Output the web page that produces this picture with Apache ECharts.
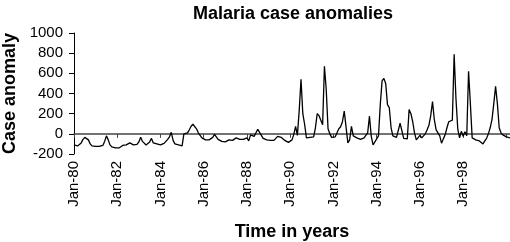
<!DOCTYPE html>
<html>
<head>
<meta charset="utf-8">
<script src="https://cdn.jsdelivr.net/npm/echarts@6/dist/echarts.min.js"></script>
<style>
  html, body { margin: 0; padding: 0; background: #fff; }
  #chart { width: 510px; height: 242px; }
</style>
</head>
<body>
<div id="chart"></div>
<script>
// monthly case anomalies, Jan-80 onward
const y1980s = [
  -110, -115, -120, -110, -90, -55, -35, -30, -60, -100, -120, -125,
  -125, -120, -125, -120, -115, -75, -20, -60, -110, -130, -135, -140,
  -140, -140, -125, -115, -105, -110, -100, -90, -95, -110, -100, -105,
  -80, -33, -75, -65, -110, -100, -80, -45, -90, -95, -100, -105,
  -110, -100, -95, -80, -55, -30, 15, -65, -100, -105, -110, -115,
  -120, 0, -5, 10, 40, 75, 95, 90, 50, 10, -15, -40,
  -50, -60, -55, -60, -55, -35, -5, -30, -55, -60, -75, -90,
  -80, -70, -60, -55, -65, -55, -40, -30, -55, -50, -55, -45,
  -40, -70, -10, -20, -25, 10, 45, 15, -15, -45, -55, -60,
  -60, -65, -70, -65, -50, -25, -25, -35, -50, -65, -75, -85
]
const y1990s = [
  -90, -60, -5, 75, -15, 230, 540, 200, 95, -40, -40, -35,
  -35, -30, 60, 200, 180, 190, 90, 670, 440, 50, 0, -35,
  -25, -30, -40, 50, 70, 120, 225, 210, -90, -60, 75, -20,
  -35, -40, -50, -55, -45, -40, -30, 10, 175, -25, -110, -80,
  -70, -20, 290, 525, 550, 500, 290, 260, 60, -20, -30, -35,
  -40, 105, 100, -45, -50, -50, 240, 200, 120, 10, -60, -50,
  -15, -40, -20, 0, 40, 85, 180, 320, 140, 40, 10, -20,
  -93, -50, -10, 60, 120, 130, 135, 790, 350, 50, -40, 25,
  -25, 20, -20, 620, 300, -40, -55, -60, -65, -70, -80, -100,
  -70, -45, 0, 60, 140, 300, 470, 300, 60, 10, -10, -25
]
const y2000s = [-30, -15, -40]

const anomalies = [].concat(y1980s, y1990s, y2000s)
const yTicks = { min: -200, max: 1000, step: 200 }
const labelEvery = 24   // one label every two years
const lastLabel = 216   // Jan-98

// category labels: Jan-80, Feb-80, ...
const monthNames = ['Jan', 'Feb', 'Mar', 'Apr', 'May', 'Jun', 'Jul', 'Aug', 'Sep', 'Oct', 'Nov', 'Dec']
const months = anomalies.map((v, i) => {
  const yr = (80 + Math.floor(i / 12)) % 100
  return monthNames[i % 12] + '-' + String(yr).padStart(2, '0')
})

const chart = echarts.init(document.getElementById('chart'))
const font = 'Liberation Sans, Arial, sans-serif'

chart.setOption({
  animation: false,
  textStyle: { fontFamily: font },
  title: {
    text: 'Malaria case anomalies',
    left: 188,
    top: 0,
    textStyle: { fontFamily: font, fontSize: 18, fontWeight: 'bold', color: '#000' }
  },
  grid: { left: 74, right: 0, top: 33, bottom: 88, outerBoundsMode: 'none', containLabel: false },
  xAxis: [{
    type: 'category',
    data: months,
    boundaryGap: false,
    name: 'Time in years',
    nameLocation: 'middle',
    nameGap: 69,
    nameTextStyle: { fontFamily: font, fontSize: 18, fontWeight: 'bold', color: '#000' },
    axisLine: { show: false, onZero: false },
    axisTick: { show: false },
    axisLabel: {
      interval: (i) => i % labelEvery === 0 && i <= lastLabel,
      rotate: 90,
      margin: 7,
      color: '#000',
      fontSize: 15,
      fontFamily: font
    },
    splitLine: { show: false }
  }, {
    // zero line with year ticks
    type: 'category',
    data: months,
    boundaryGap: false,
    position: 'bottom',
    axisLine: { show: true, onZero: true, lineStyle: { color: '#444', width: 1.5 } },
    axisTick: { show: true, interval: labelEvery - 1, length: 4, lineStyle: { color: '#444', width: 1 } },
    axisLabel: { show: false },
    splitLine: { show: false }
  }],
  yAxis: {
    type: 'value',
    min: yTicks.min,
    max: yTicks.max,
    interval: yTicks.step,
    name: 'Case anomaly',
    nameLocation: 'middle',
    nameGap: 53,
    nameTextStyle: { fontFamily: font, fontSize: 18, fontWeight: 'bold', color: '#000' },
    axisLine: { show: true, lineStyle: { color: '#000', width: 1 } },
    axisTick: { show: true, length: 5, lineStyle: { color: '#000' } },
    axisLabel: { color: '#000', fontSize: 15, margin: 11, fontFamily: font, formatter: (v) => String(v) },
    splitLine: { show: false }
  },
  series: [{
    type: 'line',
    xAxisIndex: 0,
    data: anomalies,
    showSymbol: false,
    symbol: 'none',
    lineStyle: { color: '#000', width: 1.3 }
  }]
})
</script>
</body>
</html>
